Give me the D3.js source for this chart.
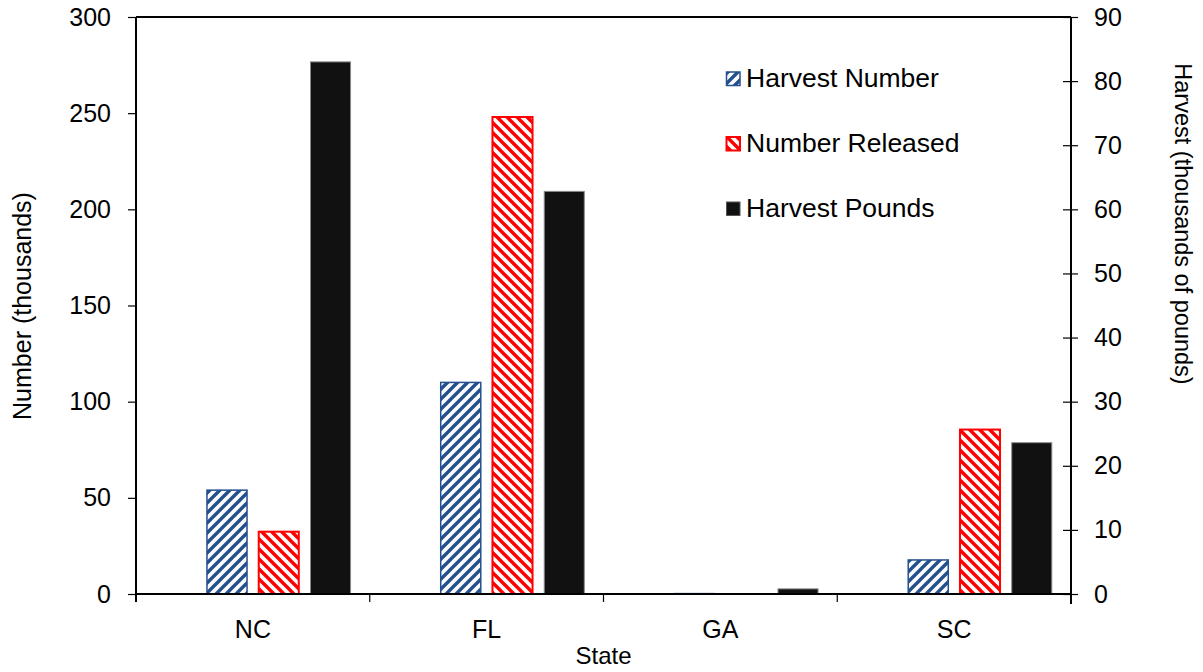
<!DOCTYPE html>
<html>
<head>
<meta charset="utf-8">
<script src="https://cdn.jsdelivr.net/npm/d3@7"></script>
<style>
html,body{margin:0;padding:0;background:#fff;}
svg{display:block;font-family:"Liberation Sans",Arial,sans-serif;}
</style>
</head>
<body>
<svg id="chart" width="1203" height="672"></svg>
<script>
const states = ["NC", "FL", "GA", "SC"];
const harvestNumber = [54, 110, 0.2, 17.7];
const numberReleased = [32.4, 248, 0, 85.5];
const harvestPounds = [83, 62.8, 0.8, 23.6];
const leftTicks = [0, 50, 100, 150, 200, 250, 300];
const rightTicks = [0, 10, 20, 30, 40, 50, 60, 70, 80, 90];
const seriesNames = ["Harvest Number", "Number Released", "Harvest Pounds"];

const svg = d3.select("#chart");
const L = 136, R = 1071, T = 17, B = 594;
const BLUE = "#24508e", RED = "#ff0000", BLACK = "#111111";

const defs = svg.append("defs");
const p1 = defs.append("pattern").attr("id", "hatchBlue").attr("patternUnits", "userSpaceOnUse")
  .attr("width", 10).attr("height", 10);
p1.append("rect").attr("width", 10).attr("height", 10).attr("fill", "#fff");
p1.append("path").attr("d", "M-2,2 L2,-2 M0,10 L10,0 M8,12 L12,8")
  .attr("stroke", BLUE).attr("stroke-width", 3.4);
const p2 = defs.append("pattern").attr("id", "hatchRed").attr("patternUnits", "userSpaceOnUse")
  .attr("width", 10).attr("height", 10);
p2.append("rect").attr("width", 10).attr("height", 10).attr("fill", "#fff");
p2.append("path").attr("d", "M-2,8 L2,12 M0,0 L10,10 M8,-2 L12,2")
  .attr("stroke", RED).attr("stroke-width", 3.4);

const yL = d3.scaleLinear().domain([0, 300]).range([B, T]);
const yR = d3.scaleLinear().domain([0, 90]).range([B, T]);
const x0 = d3.scaleBand().domain(states).range([L, R]).padding(0);
const x1 = d3.scaleBand().domain(["_", "HN", "NR", "HP"]).range([0, x0.bandwidth()])
  .paddingInner(0.226).paddingOuter(0.371);

const series = [
  {key: "HN", values: harvestNumber, scale: yL, fill: "url(#hatchBlue)", stroke: BLUE, sw: 1.5},
  {key: "NR", values: numberReleased, scale: yL, fill: "url(#hatchRed)", stroke: RED, sw: 2},
  {key: "HP", values: harvestPounds, scale: yR, fill: BLACK, stroke: "#8a8a8a", sw: 1}
];

const gBars = svg.append("g");
series.forEach(s => {
  gBars.selectAll(null).data(states.map((st, i) => ({st, v: s.values[i]})).filter(d => d.v > 0))
    .enter().append("rect")
    .attr("x", d => x0(d.st) + x1(s.key))
    .attr("width", x1.bandwidth())
    .attr("y", d => s.scale(d.v))
    .attr("height", d => B - s.scale(d.v))
    .attr("fill", s.fill)
    .attr("stroke", s.stroke)
    .attr("stroke-width", s.sw);
});

// frame top line
svg.append("line").attr("x1", L).attr("x2", R).attr("y1", T).attr("y2", T)
  .attr("stroke", "#000").attr("stroke-width", 2);

// left axis
const axL = svg.append("g").attr("transform", `translate(${L},0)`)
  .call(d3.axisLeft(yL).tickValues(leftTicks).tickSize(8).tickPadding(17).tickFormat(d3.format("d")));
axL.select(".domain").attr("stroke", "#000").attr("stroke-width", 2).attr("d", `M0,${T}V${B + 8}`);
axL.selectAll(".tick line").attr("stroke", "#000").attr("stroke-width", 1.2);
axL.selectAll(".tick text").attr("font-size", 25).attr("fill", "#000")
  .attr("font-family", "Liberation Sans, Arial, sans-serif");

// right axis
const axR = svg.append("g").attr("transform", `translate(${R},0)`)
  .call(d3.axisRight(yR).tickValues(rightTicks).tickSize(7).tickPadding(16).tickFormat(d3.format("d")));
axR.select(".domain").attr("stroke", "#000").attr("stroke-width", 2).attr("d", `M0,${T}V${B + 10}`);
axR.selectAll(".tick line").attr("stroke", "#000").attr("stroke-width", 1.2).attr("x1", -8).attr("x2", 7);
axR.selectAll(".tick text").attr("font-size", 25).attr("fill", "#000")
  .attr("font-family", "Liberation Sans, Arial, sans-serif");

// bottom axis
const axB = svg.append("g").attr("transform", `translate(0,${B})`)
  .call(d3.axisBottom(x0).tickSize(0).tickPadding(26));
axB.select(".domain").attr("stroke", "#000").attr("stroke-width", 2).attr("d", `M${L},0H${R}`);
axB.selectAll(".tick text").attr("font-size", 25).attr("fill", "#000")
  .attr("font-family", "Liberation Sans, Arial, sans-serif");
const bounds = states.slice(1).map(s => x0(s));
axB.selectAll(".sep").data(bounds).enter().append("line")
  .attr("x1", d => d).attr("x2", d => d).attr("y1", 0).attr("y2", 8)
  .attr("stroke", "#000").attr("stroke-width", 1.2);

// axis titles
svg.append("text").attr("x", (L + R) / 2 + 0).attr("y", 664).attr("text-anchor", "middle")
  .attr("font-size", 24).text("State");
svg.append("text").attr("transform", "translate(31,306) rotate(-90)").attr("text-anchor", "middle")
  .attr("font-size", 25).text("Number (thousands)");
svg.append("text").attr("transform", "translate(1175,224) rotate(90)").attr("text-anchor", "middle")
  .attr("font-size", 23.5).text("Harvest (thousands of pounds)");

// legend
const legFills = [
  {fill: "url(#hatchBlue)", stroke: BLUE, sw: 1.5},
  {fill: "url(#hatchRed)", stroke: RED, sw: 2},
  {fill: BLACK, stroke: "#555", sw: 1}
];
const legY = [72, 137, 202];
seriesNames.forEach((n, i) => {
  svg.append("rect").attr("x", 726.5).attr("y", legY[i]).attr("width", 13.5).attr("height", 13.5)
    .attr("fill", legFills[i].fill).attr("stroke", legFills[i].stroke).attr("stroke-width", legFills[i].sw);
  svg.append("text").attr("x", 746).attr("y", legY[i] + 15).attr("font-size", 26.5).text(n);
});
</script>
</body>
</html>
